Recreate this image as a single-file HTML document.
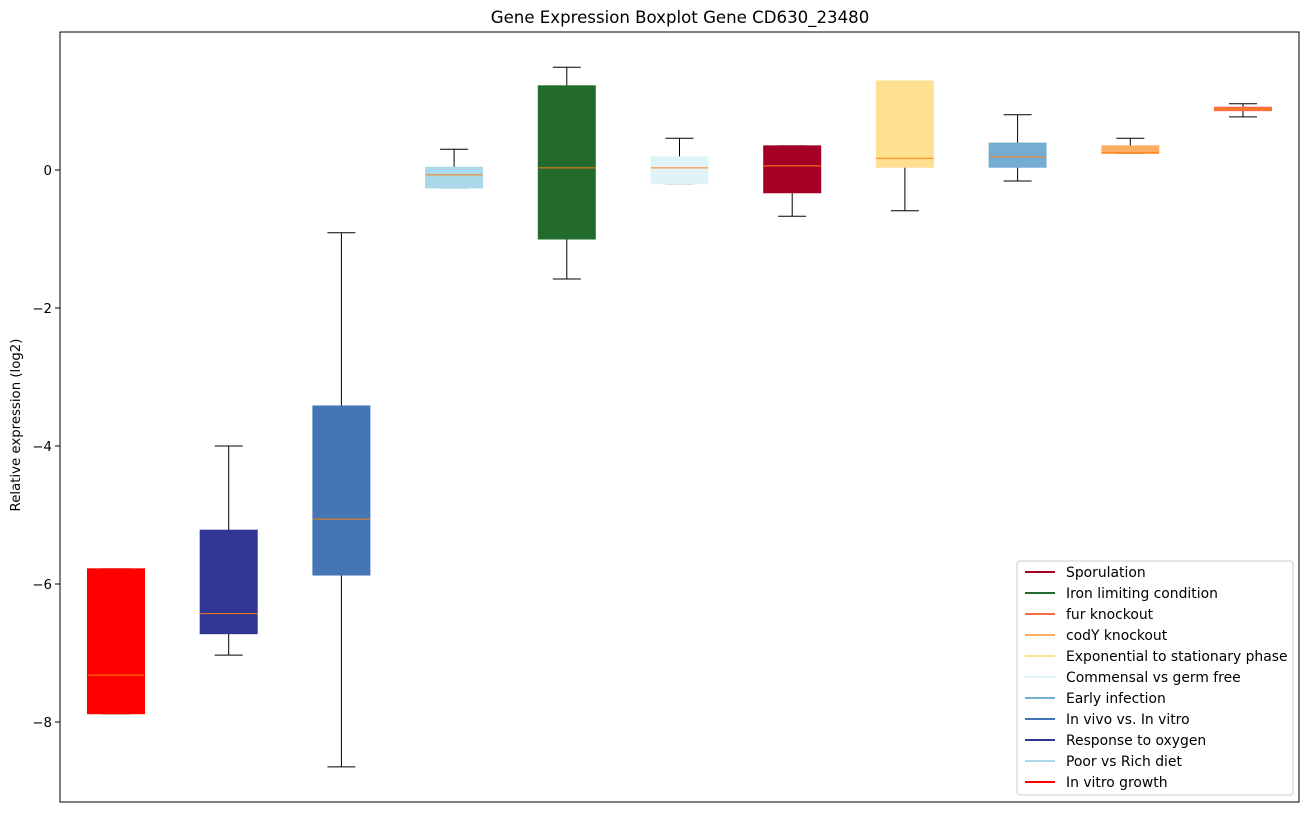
<!DOCTYPE html>
<html><head><meta charset="utf-8"><style>
body{margin:0;background:#fff;}
svg text{font-family:"DejaVu Sans","Liberation Sans",sans-serif;}
</style></head><body>
<svg id="chart" width="1309" height="812">
<rect x="0" y="0" width="1309" height="812" fill="#fff"/>
<text x="680" y="23" text-anchor="middle" font-size="16.6">Gene Expression Boxplot Gene CD630_23480</text>
<text transform="translate(20,425) rotate(-90)" text-anchor="middle" font-size="13.3">Relative expression (log2)</text>
<g id="plot"></g>
<rect x="60" y="32" width="1239" height="770" fill="none" stroke="#000" stroke-width="1"/>
</svg>
<script>
const categories=["In vitro growth","Response to oxygen","In vivo vs. In vitro","Poor vs Rich diet","Iron limiting condition","Commensal vs germ free","Sporulation","Exponential to stationary phase","Early infection","codY knockout","fur knockout"];
const colors=["#ff0000","#313695","#4575b4","#abd9e9","#226b2d","#e0f3f8","#a50026","#fee090","#74add1","#fdae61","#f46d43"];
const whiskerHigh=[-5.78,-4.0,-0.91,0.30,1.49,0.46,0.35,1.29,0.80,0.46,0.96];
const q3=[-5.78,-5.22,-3.42,0.04,1.22,0.19,0.35,1.29,0.39,0.35,0.91];
const medians=[-7.32,-6.43,-5.06,-0.07,0.03,0.03,0.06,0.17,0.19,0.25,0.88];
const q1=[-7.88,-6.72,-5.87,-0.26,-1.0,-0.2,-0.33,0.04,0.04,0.24,0.86];
const whiskerLow=[-7.88,-7.03,-8.65,-0.26,-1.58,-0.2,-0.67,-0.59,-0.16,0.24,0.77];
const yTicks=[-8,-6,-4,-2,0];
const legendLabels=["Sporulation","Iron limiting condition","fur knockout","codY knockout","Exponential to stationary phase","Commensal vs germ free","Early infection","In vivo vs. In vitro","Response to oxygen","Poor vs Rich diet","In vitro growth"];
const legendColors=["#a50026","#226b2d","#f46d43","#fdae61","#fee090","#e0f3f8","#74add1","#4575b4","#313695","#abd9e9","#ff0000"];

const NS="http://www.w3.org/2000/svg";
const g=document.getElementById('plot');
const y=v=>170-v*69;
const x=i=>116+i*112.7;
function mk(t,a,p){const e=document.createElementNS(NS,t);for(const k in a)e.setAttribute(k,a[k]);(p||g).appendChild(e);return e;}
yTicks.forEach(t=>{
  const l=mk('line',{x1:55,x2:60,y1:y(t),y2:y(t),stroke:'#000'});
  
  
  const tx=mk('text',{x:52,y:y(t)+5,'text-anchor':'end','font-size':13.3});
  tx.textContent=(t<0?'\u2212'+(-t):t);
  
  
});
const hw=28.5,cw=14;
categories.forEach((c,i)=>{
  const cx=x(i);
  const bg=mk('g',{});
  
  
  mk('line',{x1:cx,x2:cx,y1:y(whiskerHigh[i]),y2:y(q3[i]),stroke:'#000'},bg);
  mk('line',{x1:cx,x2:cx,y1:y(q1[i]),y2:y(whiskerLow[i]),stroke:'#000'},bg);
  mk('line',{x1:cx-cw,x2:cx+cw,y1:y(whiskerHigh[i]),y2:y(whiskerHigh[i]),stroke:'#000'},bg);
  mk('line',{x1:cx-cw,x2:cx+cw,y1:y(whiskerLow[i]),y2:y(whiskerLow[i]),stroke:'#000'},bg);
  mk('rect',{x:cx-hw,y:y(q3[i]),width:2*hw,height:Math.max(2,y(q1[i])-y(q3[i])),fill:colors[i],stroke:colors[i]},bg);
  mk('line',{x1:cx-hw,x2:cx+hw,y1:y(medians[i]),y2:y(medians[i]),stroke:'#ff7f0e'},bg);
});
const lg=mk('g',{});


mk('rect',{x:1017,y:561,width:276,height:234,rx:3,fill:'#fff',stroke:'#ccc'},lg);
legendLabels.forEach((l,i)=>{
  const e=mk('g',{},lg);
  
  
  const yy=572+i*21;
  mk('line',{x1:1025,x2:1055,y1:yy,y2:yy,stroke:legendColors[i],'stroke-width':2},e);
  const t=mk('text',{x:1066,y:yy+5,'font-size':13.9},e);
  t.textContent=l;
});
</script>
</body></html>
